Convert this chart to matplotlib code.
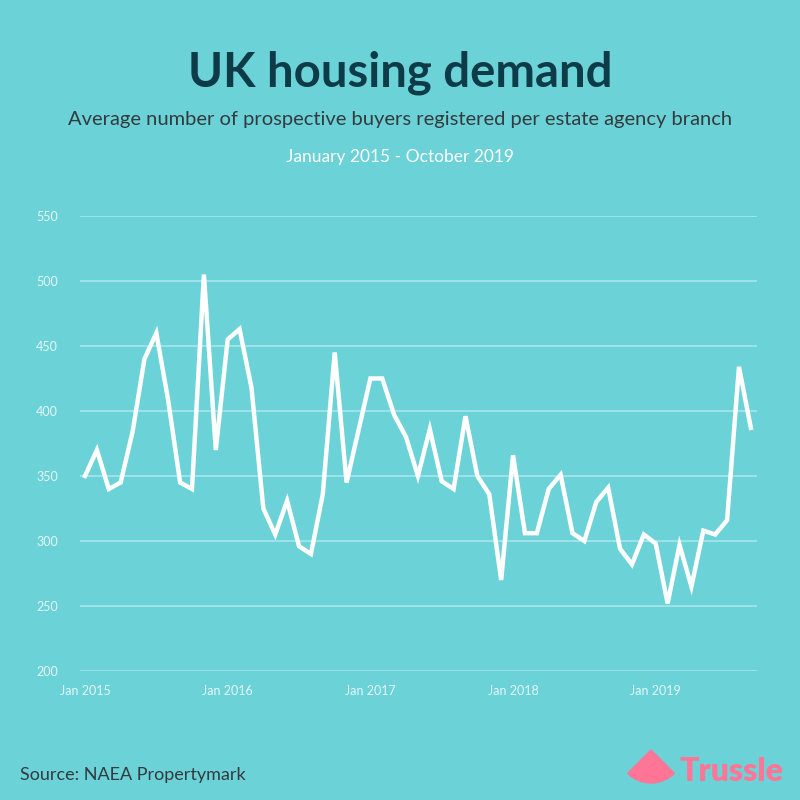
import matplotlib
matplotlib.use("Agg")
import matplotlib.pyplot as plt
from matplotlib.patches import Wedge

# monthly averages, Jan 2015 onwards
buyers = [350, 370, 340, 345, 384, 440, 460, 408, 345, 340, 505, 370,
          455, 463, 418, 325, 305, 331, 296, 290, 336, 445, 345, 385,
          425, 425, 397, 380, 350, 386, 346, 340, 396, 350, 336, 270,
          366, 306, 306, 340, 351, 306, 300, 330, 341, 294, 282, 305,
          298, 252, 297, 265, 308, 305, 316, 434, 387]
tick_pos = [0, 12, 24, 36, 48]
tick_labels = ["Jan 2015", "Jan 2016", "Jan 2017", "Jan 2018", "Jan 2019"]
y_ticks = [200, 250, 300, 350, 400, 450, 500, 550]

bg = "#6BD2D8"
grid_col = "#A8E6EA"
dark = "#0D3C48"
pink = "#FF7596"

plt.rcParams['font.family'] = ['Lato', 'DejaVu Sans']

fig = plt.figure(figsize=(8, 8), dpi=100, facecolor=bg)
ax = fig.add_axes([0.1, 1 - 671 / 800, 0.846, (671 - 216) / 800])
ax.set_facecolor(bg)

months = list(range(len(buyers)))
ax.plot(months, buyers, color="white", lw=3.2, solid_joinstyle="miter", zorder=3)

ax.set_xlim(-0.42, 56.5)
ax.set_ylim(200, 550)
ax.set_yticks(y_ticks)
ax.set_xticks(tick_pos)
ax.set_xticklabels(tick_labels)
ax.grid(axis="y", color=grid_col, lw=1.2)
ax.set_axisbelow(True)
for s in ax.spines.values():
    s.set_visible(False)
ax.tick_params(length=0, colors="#E6F7F8", labelsize=9)
ax.tick_params(axis="y", pad=16)
ax.tick_params(axis="x", pad=10)

fig.text(0.5, 1 - 73 / 800, "UK housing demand", ha="center", va="center",
         fontsize=34, fontweight="bold", color=dark)
fig.text(0.5, 1 - 119 / 800,
         "Average number of prospective buyers registered per estate agency branch",
         ha="center", va="center", fontsize=14.5, color="#333B3E")
fig.text(0.5, 1 - 157 / 800, "January 2015 - October 2019", ha="center",
         va="center", fontsize=12.5, color="white")
fig.text(20 / 800, 1 - 775 / 800, "Source: NAEA Propertymark", ha="left",
         va="center", fontsize=13, color="#333B3E")

# logo
lax = fig.add_axes([0, 0, 1, 1], facecolor="none")
lax.set_xlim(0, 800)
lax.set_ylim(0, 800)
lax.axis("off")
lax.add_patch(Wedge((651, 50), 33, 225, 315, color=pink))
lax.text(680, 19, "Trussle", ha="left", va="baseline", fontsize=23,
         fontweight="heavy", color=pink)

fig.savefig("out.png", dpi=100, facecolor=bg)
